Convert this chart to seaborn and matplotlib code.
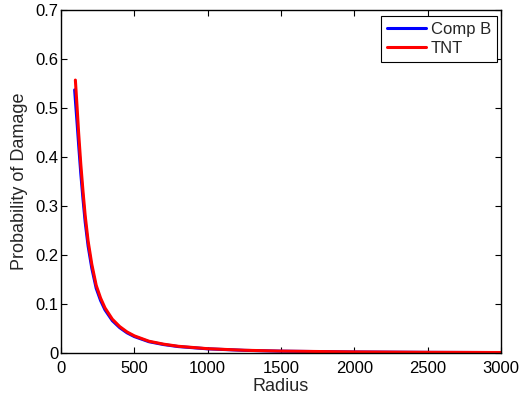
import matplotlib
matplotlib.use("Agg")
import matplotlib.pyplot as plt
import seaborn as sns
import pandas as pd
from matplotlib.ticker import FuncFormatter, MultipleLocator

# Data
radius_compb = [93, 100, 110, 120, 135, 150, 165, 185, 210, 240, 270, 300, 350, 400,
                450, 500, 600, 700, 800, 1000, 1250, 1500, 2000, 2500, 3000]
prob_compb = [0.537, 0.508, 0.468, 0.426, 0.366, 0.314, 0.267, 0.218, 0.173, 0.132, 0.107,
              0.088, 0.066, 0.0518, 0.0412, 0.0335, 0.023, 0.0172, 0.0131, 0.0085,
              0.0054, 0.0037, 0.0021, 0.0013, 0.0009]

radius_tnt = [98, 110, 120, 135, 150, 165, 185, 210, 240, 270, 300, 350, 400,
              450, 500, 600, 700, 800, 1000, 1250, 1500, 2000, 2500, 3000]
prob_tnt = [0.557, 0.50, 0.45, 0.385, 0.33, 0.28, 0.228, 0.181, 0.138, 0.112, 0.092,
            0.069, 0.054, 0.043, 0.035, 0.024, 0.018, 0.0137, 0.0088, 0.0056, 0.0039,
            0.0022, 0.0014, 0.001]

series_names = ["Comp B", "TNT"]
x_ticks = [0, 500, 1000, 1500, 2000, 2500, 3000]

df = pd.concat([
    pd.DataFrame({"Radius": radius_compb, "Prob": prob_compb, "Series": series_names[0]}),
    pd.DataFrame({"Radius": radius_tnt, "Prob": prob_tnt, "Series": series_names[1]}),
], ignore_index=True)

sns.set_style("white")
plt.rcParams["font.family"] = ["Liberation Sans", "DejaVu Sans"]

fig = plt.figure(figsize=(5.25, 4.03), dpi=100)
ax = fig.add_axes([61 / 525, 1 - 353 / 403, 440 / 525, 343 / 403])

sns.lineplot(data=df, x="Radius", y="Prob", hue="Series",
             palette={"Comp B": "#0000ff", "TNT": "#ff0000"},
             linewidth=2.2, ax=ax, sort=True, estimator=None)

ax.set_xlim(0, 3000)
ax.set_ylim(0, 0.7)
ax.set_xticks(x_ticks)
ax.yaxis.set_major_locator(MultipleLocator(0.1))
fmt = FuncFormatter(lambda v, p: "%g" % round(v, 6))
ax.xaxis.set_major_formatter(fmt)
ax.yaxis.set_major_formatter(fmt)

for s in ax.spines.values():
    s.set_visible(True)
    s.set_color("black")
    s.set_linewidth(1.0)

ax.tick_params(direction="in", length=4, width=0.8, top=True, right=True,
               bottom=True, left=True, labelsize=12, colors="black", pad=2)
ax.tick_params(axis="x", pad=6)

ax.set_xlabel("Radius", fontsize=13, labelpad=1)
ax.set_ylabel("Probability of Damage", fontsize=13, labelpad=5)

leg = ax.legend(loc="upper right", fontsize=12, frameon=True, fancybox=False,
                edgecolor="black", framealpha=1, handlelength=2.35,
                bbox_to_anchor=(1 - 4 / 440, 1 - 6 / 343),
                borderaxespad=0, borderpad=0.35, labelspacing=0.25,
                handletextpad=0.3, title=None)
leg.get_frame().set_linewidth(0.8)

fig.savefig("out.png", dpi=100, facecolor="white")
